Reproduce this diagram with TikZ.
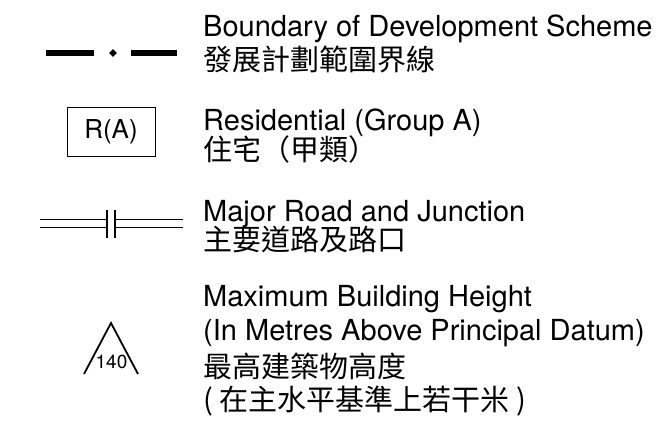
\documentclass[tikz,border=0pt]{standalone}
\usepackage{fontspec}
\setmainfont{TeX Gyre Heros}
\newfontfamily\cjk{Noto Sans CJK TC}
\begin{document}
\begin{tikzpicture}[x=1pt,y=-1pt,
  lbl/.style={anchor=base west,inner sep=0pt,font=\fontsize{29}{34}\selectfont},
  clbl/.style={anchor=base west,inner sep=0pt,font=\fontsize{29}{34}\selectfont\cjk},
  road/.style={line width=1.3pt},
  bnd/.style={line width=6.5pt}]
\useasboundingbox (0,0) rectangle (668,420);
% Boundary
\coordinate (b1) at (46,53);
\coordinate (b2) at (94,53);
\coordinate (b3) at (131,53);
\coordinate (b4) at (177,53);
\draw[bnd] (b1) -- (b2);
\draw[bnd] (b3) -- (b4);
\node[draw=none,fill=black,shape=rectangle,rotate=45,minimum size=5.5pt,inner sep=0pt] (dia) at (113,53) {};
\node[lbl] (t1a) at (203,37) {Boundary of Development Scheme};
\node[clbl] (t1b) at (203,70.5) {發展計劃範圍界線};
% R(A)
\node[draw,line width=0.9pt,minimum width=88pt,minimum height=49pt,inner sep=0pt,font=\fontsize{26}{30}\selectfont] (ra) at (111,131.5) {R(A)};
\node[lbl] (t2a) at (203,130) {Residential (Group A)};
\node[clbl] (t2b) at (203,160.5) {住宅（甲類）};
% Road
\coordinate (r1) at (40,219.3);
\coordinate (r2) at (107,219.3);
\coordinate (r3) at (40,227.3);
\coordinate (r4) at (107,227.3);
\coordinate (r5) at (107,210);
\coordinate (r6) at (107,237.5);
\coordinate (r7) at (115,210);
\coordinate (r8) at (115,237.5);
\coordinate (r9) at (183,219.3);
\coordinate (r10) at (183,227.3);
\draw[road] (r1) -- (r2) (r3) -- (r4) (r5) -- (r6);
\draw[road] (r9) -- (r7 |- r9) (r10) -- (r8 |- r10) (r7) -- (r8);
\node[lbl] (t3a) at (203,221) {Major Road and Junction};
\node[clbl] (t3b) at (203,250.5) {主要道路及路口};
% Triangle
\coordinate (ta) at (111,323);
\coordinate (tl) at (84,374);
\coordinate (tr) at (138,374);
\draw[line width=1.8pt,line join=miter] (tl) -- (ta) -- (tr);
\node[anchor=base,inner sep=0pt,font=\fontsize{19}{21}\selectfont] (h) at (111.5,368) {140};
\node[lbl] (t4a) at (203,306) {Maximum Building Height};
\node[lbl] (t4b) at (203,340) {(In Metres Above Principal Datum)};
\node[clbl] (t4c) at (203,377) {最高建築物高度};
\node[clbl] (t4d) at (203,410) {( 在主水平基準上若干米 )};
\end{tikzpicture}
\end{document}
